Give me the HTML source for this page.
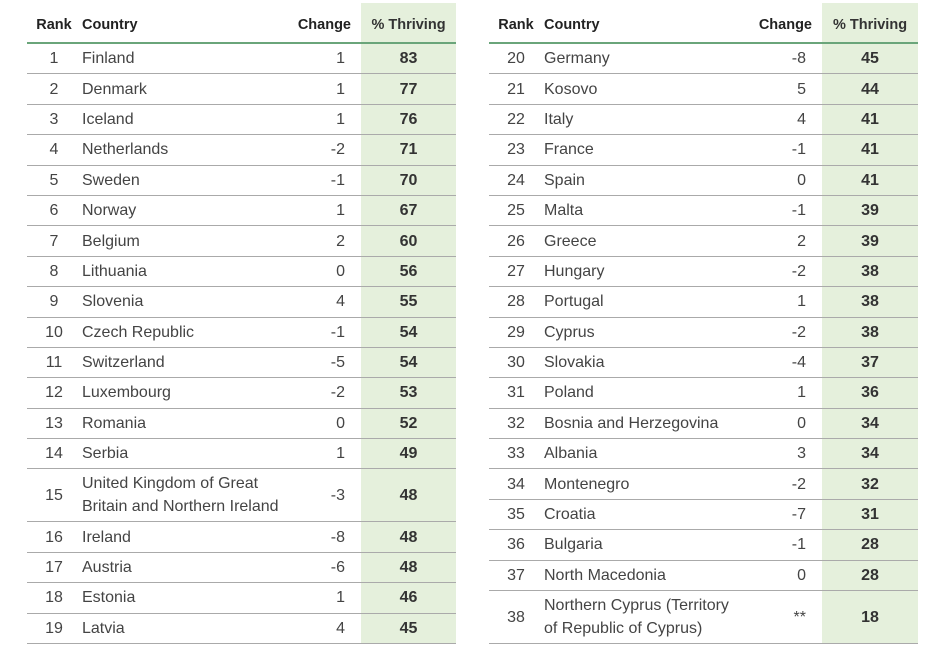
<!DOCTYPE html>
<html><head><meta charset="utf-8"><style>
body{margin:0;width:940px;height:657px;background:#fff;font-family:"Liberation Sans",sans-serif;position:relative;overflow:hidden}
table{position:absolute;top:3px;border-collapse:collapse;table-layout:fixed}
#l{left:27px;width:429px}#r{left:489px;width:429px}
th{height:40px;font-size:14.5px;font-weight:bold;color:#222;border-bottom:2px solid #6aa57a;padding:0;vertical-align:middle;padding-top:4px;box-sizing:border-box}
td{height:29.4px;border-bottom:1px solid #aaa;padding:0;font-size:16px;color:#444;line-height:23px}
tr.d td{height:52px}
.rk{text-align:center}.c{text-align:left;padding-left:1px;white-space:nowrap}.ch{text-align:right;padding-right:16px}
.t{text-align:center;background:#e5f0dc;font-weight:bold;color:#333}
th.t{background:#e5f0dc}
</style></head><body>
<table id="l"><colgroup><col style="width:54px"><col style="width:205px"><col style="width:75px"><col style="width:95px"></colgroup>
<tr><th class="rk">Rank</th><th class="c">Country</th><th class="ch" style="padding-right:10px">Change</th><th class="t">% Thriving</th></tr>
<tr><td class="rk">1</td><td class="c">Finland</td><td class="ch">1</td><td class="t">83</td></tr>
<tr><td class="rk">2</td><td class="c">Denmark</td><td class="ch">1</td><td class="t">77</td></tr>
<tr><td class="rk">3</td><td class="c">Iceland</td><td class="ch">1</td><td class="t">76</td></tr>
<tr><td class="rk">4</td><td class="c">Netherlands</td><td class="ch">-2</td><td class="t">71</td></tr>
<tr><td class="rk">5</td><td class="c">Sweden</td><td class="ch">-1</td><td class="t">70</td></tr>
<tr><td class="rk">6</td><td class="c">Norway</td><td class="ch">1</td><td class="t">67</td></tr>
<tr><td class="rk">7</td><td class="c">Belgium</td><td class="ch">2</td><td class="t">60</td></tr>
<tr><td class="rk">8</td><td class="c">Lithuania</td><td class="ch">0</td><td class="t">56</td></tr>
<tr><td class="rk">9</td><td class="c">Slovenia</td><td class="ch">4</td><td class="t">55</td></tr>
<tr><td class="rk">10</td><td class="c">Czech Republic</td><td class="ch">-1</td><td class="t">54</td></tr>
<tr><td class="rk">11</td><td class="c">Switzerland</td><td class="ch">-5</td><td class="t">54</td></tr>
<tr><td class="rk">12</td><td class="c">Luxembourg</td><td class="ch">-2</td><td class="t">53</td></tr>
<tr><td class="rk">13</td><td class="c">Romania</td><td class="ch">0</td><td class="t">52</td></tr>
<tr><td class="rk">14</td><td class="c">Serbia</td><td class="ch">1</td><td class="t">49</td></tr>
<tr class="d"><td class="rk">15</td><td class="c">United Kingdom of Great<br>Britain and Northern Ireland</td><td class="ch">-3</td><td class="t">48</td></tr>
<tr><td class="rk">16</td><td class="c">Ireland</td><td class="ch">-8</td><td class="t">48</td></tr>
<tr><td class="rk">17</td><td class="c">Austria</td><td class="ch">-6</td><td class="t">48</td></tr>
<tr><td class="rk">18</td><td class="c">Estonia</td><td class="ch">1</td><td class="t">46</td></tr>
<tr><td class="rk">19</td><td class="c">Latvia</td><td class="ch">4</td><td class="t">45</td></tr>
</table>
<table id="r"><colgroup><col style="width:54px"><col style="width:205px"><col style="width:74px"><col style="width:96px"></colgroup>
<tr><th class="rk">Rank</th><th class="c">Country</th><th class="ch" style="padding-right:10px">Change</th><th class="t">% Thriving</th></tr>
<tr><td class="rk">20</td><td class="c">Germany</td><td class="ch">-8</td><td class="t">45</td></tr>
<tr><td class="rk">21</td><td class="c">Kosovo</td><td class="ch">5</td><td class="t">44</td></tr>
<tr><td class="rk">22</td><td class="c">Italy</td><td class="ch">4</td><td class="t">41</td></tr>
<tr><td class="rk">23</td><td class="c">France</td><td class="ch">-1</td><td class="t">41</td></tr>
<tr><td class="rk">24</td><td class="c">Spain</td><td class="ch">0</td><td class="t">41</td></tr>
<tr><td class="rk">25</td><td class="c">Malta</td><td class="ch">-1</td><td class="t">39</td></tr>
<tr><td class="rk">26</td><td class="c">Greece</td><td class="ch">2</td><td class="t">39</td></tr>
<tr><td class="rk">27</td><td class="c">Hungary</td><td class="ch">-2</td><td class="t">38</td></tr>
<tr><td class="rk">28</td><td class="c">Portugal</td><td class="ch">1</td><td class="t">38</td></tr>
<tr><td class="rk">29</td><td class="c">Cyprus</td><td class="ch">-2</td><td class="t">38</td></tr>
<tr><td class="rk">30</td><td class="c">Slovakia</td><td class="ch">-4</td><td class="t">37</td></tr>
<tr><td class="rk">31</td><td class="c">Poland</td><td class="ch">1</td><td class="t">36</td></tr>
<tr><td class="rk">32</td><td class="c">Bosnia and Herzegovina</td><td class="ch">0</td><td class="t">34</td></tr>
<tr><td class="rk">33</td><td class="c">Albania</td><td class="ch">3</td><td class="t">34</td></tr>
<tr><td class="rk">34</td><td class="c">Montenegro</td><td class="ch">-2</td><td class="t">32</td></tr>
<tr><td class="rk">35</td><td class="c">Croatia</td><td class="ch">-7</td><td class="t">31</td></tr>
<tr><td class="rk">36</td><td class="c">Bulgaria</td><td class="ch">-1</td><td class="t">28</td></tr>
<tr><td class="rk">37</td><td class="c">North Macedonia</td><td class="ch">0</td><td class="t">28</td></tr>
<tr class="d"><td class="rk">38</td><td class="c">Northern Cyprus (Territory<br>of Republic of Cyprus)</td><td class="ch">**</td><td class="t">18</td></tr>
</table>
</body></html>
